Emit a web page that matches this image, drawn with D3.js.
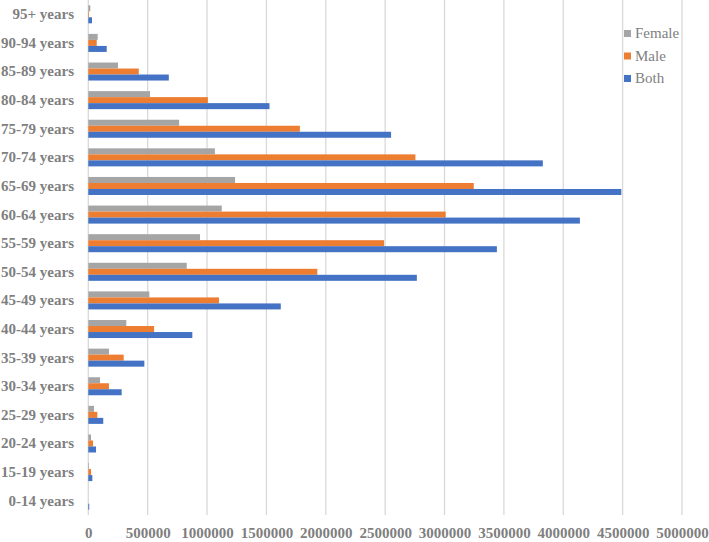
<!DOCTYPE html>
<html>
<head>
<meta charset="utf-8">
<script src="https://cdn.jsdelivr.net/npm/d3@7"></script>
<style>
  html, body { margin: 0; padding: 0; background: #fff; }
  svg { display: block; }
</style>
</head>
<body>
<svg id="chart" width="709" height="542"></svg>
<script>
// Categories listed bottom -> top as in the chart
const categories = ["0-14 years", "15-19 years", "20-24 years", "25-29 years", "30-34 years",
  "35-39 years", "40-44 years", "45-49 years", "50-54 years", "55-59 years", "60-64 years",
  "65-69 years", "70-74 years", "75-79 years", "80-84 years", "85-89 years", "90-94 years", "95+ years"];

const female = [0, 6000, 23000, 48000, 99000, 174000, 320000, 514000, 829000, 941000,
  1124000, 1236000, 1066000, 765000, 520000, 250000, 79000, 17000];
const male = [0, 23000, 40000, 76000, 174000, 298000, 554000, 1101000, 1929000, 2491000,
  3010000, 3246000, 2755000, 1782000, 1007000, 425000, 71000, 6000];
const both = [8000, 34000, 65000, 126000, 281000, 472000, 876000, 1621000, 2767000, 3441000,
  4140000, 4489000, 3828000, 2550000, 1526000, 678000, 155000, 31000];

const seriesNames = ["Female", "Male", "Both"];
const seriesColors = ["#A5A5A5", "#ED7D31", "#4472C4"];
const xTicks = [0, 500000, 1000000, 1500000, 2000000, 2500000, 3000000, 3500000, 4000000, 4500000, 5000000];

const seriesValues = [female, male, both];

const svg = d3.select("#chart");
const plot = { left: 88.3, right: 682, top: 0, bottom: 515 };

const x = d3.scaleLinear().domain([0, 5000000]).range([plot.left, plot.right]);
const y = d3.scaleBand()
  .domain(categories.slice().reverse())
  .range([plot.top, plot.bottom])
  .paddingInner(0.37)
  .paddingOuter(0.185);
const ySub = d3.scaleBand().domain(seriesNames).range([0, y.bandwidth()]);

const textColor = "#7f7f7f";
const fontFamily = "'Liberation Serif', 'Times New Roman', serif";

// Gridlines
svg.append("g")
  .selectAll("line")
  .data(xTicks)
  .join("line")
  .attr("x1", d => x(d)).attr("x2", d => x(d))
  .attr("y1", plot.top).attr("y2", plot.bottom)
  .attr("stroke", "#d9d9d9")
  .attr("stroke-width", 1.3);

// Bars
const rows = categories.map((c, i) => ({ cat: c, vals: seriesNames.map((s, k) => ({ s, k, v: seriesValues[k][i] })) }));
const groups = svg.append("g").selectAll("g")
  .data(rows)
  .join("g")
  .attr("transform", d => `translate(0,${y(d.cat)})`);
groups.selectAll("rect")
  .data(d => d.vals)
  .join("rect")
  .attr("x", x(0))
  .attr("y", d => ySub(d.s))
  .attr("width", d => Math.max(0, x(d.v) - x(0)))
  .attr("height", ySub.bandwidth())
  .attr("fill", d => seriesColors[d.k]);

// X axis labels
const xAxis = d3.axisBottom(x).tickValues(xTicks).tickSize(0).tickPadding(0).tickFormat(d3.format("d"));
const gx = svg.append("g").attr("transform", `translate(0,${plot.bottom})`).call(xAxis);
gx.select(".domain").remove();
gx.selectAll("text")
  .attr("y", 22.5).attr("dy", null)
  .attr("fill", textColor)
  .style("font-family", fontFamily)
  .style("font-size", "15px")
  .style("font-weight", "bold");

// Y axis labels
const yAxis = d3.axisLeft(y).tickSize(0).tickPadding(0);
const gy = svg.append("g").attr("transform", `translate(74,0)`).call(yAxis);
gy.select(".domain").remove();
gy.selectAll("text")
  .attr("x", 0).attr("dy", "0.33em")
  .attr("fill", textColor)
  .style("font-family", fontFamily)
  .style("font-size", "15px")
  .style("font-weight", "bold");

// Legend
const legend = svg.append("g").attr("transform", "translate(624,0)");
const legendY = [33.5, 56, 78.5];
seriesNames.forEach((s, k) => {
  legend.append("rect")
    .attr("x", 0).attr("y", legendY[k] - 3.5)
    .attr("width", 7).attr("height", 7)
    .attr("fill", seriesColors[k]);
  legend.append("text")
    .attr("x", 11).attr("y", legendY[k]).attr("dy", "0.33em")
    .attr("fill", textColor)
    .style("font-family", fontFamily)
    .style("font-size", "15px")
    .text(s);
});
</script>
</body>
</html>
